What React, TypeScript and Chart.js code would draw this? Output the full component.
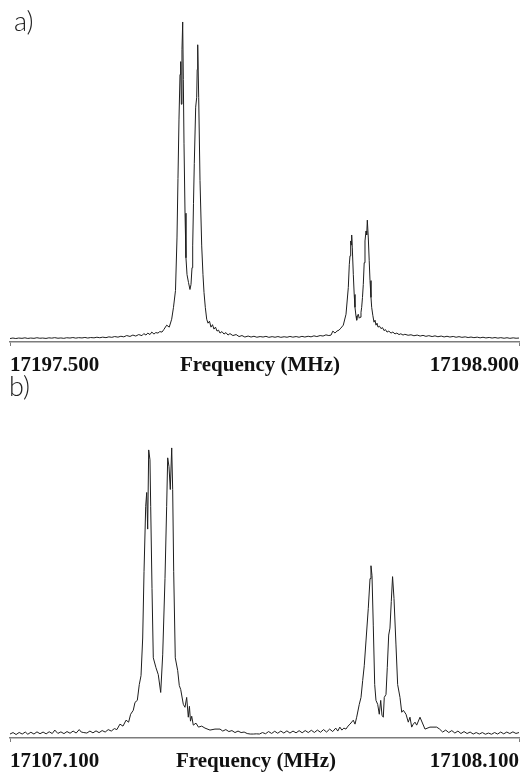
import React, { useEffect, useRef } from "react";
import { Chart, registerables } from "chart.js";

Chart.register(...registerables);

// ---------- Panel a) : 17197.500 – 17198.900 MHz (offsets in kHz from start) ----------
const startMHzA = 17197.5;
const spanKHzA = 1400;
const offsetKHzA = [
  0, 8, 16, 24, 33, 41, 49, 57, 66, 74,
  82, 90, 99, 107, 115, 123, 132, 140, 148, 156,
  165, 173, 181, 189, 198, 206, 214, 222, 231, 239,
  247, 255, 264, 272, 280, 288, 297, 305, 313, 321,
  330, 338, 346, 354, 363, 368, 374, 379, 385, 390,
  396, 401, 407, 412, 418, 423, 431, 438, 444.7, 449.7,
  455.2, 459.3, 462, 464.8, 467.6, 469.5, 471.2, 473, 475, 476.7,
  478.6, 481.4, 484, 486.9, 491, 495, 497.8, 500.6, 502.5, 504.7,
  506.9, 510.7, 513.5, 514.9, 516.3, 519, 522.6, 527.3, 530.8, 533.6,
  537.2, 541, 544.6, 548.7, 552.8, 557, 561, 565.2, 569.4, 573.5,
  577.6, 583, 588.6, 594, 599.6, 605, 613, 622, 630, 638,
  646, 655, 663, 671, 679, 688, 696, 704, 712, 721,
  729, 737, 745, 754, 762, 770, 778, 787, 795, 803,
  811, 820, 828, 836, 844, 853, 861, 869, 877, 883,
  888, 894, 899, 905, 910, 916.7, 924.2, 930.5, 933.2, 935.2,
  937.1, 938.5, 939.8, 941.5, 944.3, 946.7, 948.9, 951.7, 953.6, 955.8,
  958, 960.5, 962.7, 965.4, 967.3, 969.5, 971.7, 974.2, 976.4, 979.2,
  981.1, 982.8, 985.5, 988, 990.2, 992.9, 994.8, 997.9, 1001.2, 1004,
  1006.7, 1009.5, 1012.2, 1016.3, 1020.4, 1024.6, 1028.7, 1032.8, 1037, 1042,
  1048, 1053, 1059, 1064, 1070, 1075, 1081, 1086, 1095, 1103,
  1111, 1120, 1128, 1136, 1144, 1152, 1161, 1169, 1177, 1186,
  1194, 1202, 1210, 1219, 1227, 1235, 1243, 1252, 1260, 1268,
  1276, 1285, 1293, 1301, 1309, 1318, 1326, 1334, 1342, 1350,
  1359, 1367, 1375, 1384, 1392, 1400,
];
const intensityA = [
  3.5, 4, 3.5, 4, 3.7, 4.2, 3.6, 4, 3.7, 4.3,
  3.8, 4, 3.6, 4.2, 3.9, 4.4, 3.8, 4.1, 3.7, 4.3,
  4, 4.5, 3.9, 4.4, 4.1, 4.6, 4, 4.5, 4.2, 4.8,
  4.3, 4.9, 4.4, 5.2, 4.7, 5.5, 4.9, 5.8, 5.2, 6.5,
  5.6, 7, 6, 7.5, 6.4, 8.5, 7, 9, 7.5, 10,
  8, 9.5, 9, 10.5, 10, 12.5, 17, 15, 23, 35,
  52, 105, 165, 225, 270, 283, 240, 295, 323, 265,
  200, 130, 85, 68, 60, 53, 58, 75, 97, 140,
  180, 237, 247, 275, 300, 247, 163, 97, 68, 50,
  35, 23, 19, 21, 15, 17.5, 13, 15, 11, 12,
  9, 10.5, 8, 9.5, 7, 8.5, 6.5, 7.5, 5.5, 6.5,
  5, 6, 5, 5.8, 4.8, 5.5, 5, 5.7, 4.7, 5.4,
  4.8, 5.5, 4.7, 5.3, 4.8, 5.6, 4.9, 5.5, 4.8, 5.7,
  5, 5.8, 5.2, 6.2, 5.5, 6.5, 6, 7.2, 6.5, 7,
  11, 9, 11, 12, 14, 17, 28, 55, 78, 87,
  102, 98, 108, 95, 68, 48, 35, 26, 22, 27,
  28, 24, 25, 30, 35, 45, 58, 80, 102, 112,
  108, 123, 105, 82, 62, 45, 35, 27, 20, 22,
  17, 19, 15, 16, 13.5, 14.5, 11.5, 12.5, 10, 11,
  9, 10, 8.2, 9, 7.5, 8.3, 7, 7.8, 6.8, 7.3,
  6.3, 7, 6, 6.7, 5.7, 6.4, 5.5, 6.2, 5.3, 6,
  5.1, 5.8, 5, 5.6, 4.8, 5.4, 4.7, 5.2, 4.5, 5,
  4.4, 4.9, 4.2, 4.8, 4.1, 4.6, 4, 4.5, 3.9, 4.4,
  3.8, 4.3, 3.7, 4.2, 3.8, 4,
];
const tickPosA = [0, 687.6, 1400];
const tickLabelsA = ["17197.500", "Frequency (MHz)", "17198.900"];

// ---------- Panel b) : 17107.100 – 17108.100 MHz (offsets in kHz from start) ----------
const startMHzB = 17107.1;
const spanKHzB = 1000;
const offsetKHzB = [
  0, 6, 12, 18, 24, 30, 35, 41, 47, 53,
  59, 65, 71, 77, 83, 88, 94, 100, 106, 112,
  118, 124, 130, 136, 140, 145, 151, 157, 163, 169,
  175, 181, 187, 193, 199, 205, 210, 216, 222, 228,
  233, 237, 242.2, 245.6, 250.1, 254, 257.4, 260.7, 263.3, 266.6,
  268.6, 270.5, 272.5, 275, 276.4, 279, 281.5, 286.8, 291.3, 296.1,
  300, 304.5, 307.8, 309.8, 312.4, 314.9, 317.7, 319.6, 321.6, 324.7,
  329.5, 332.6, 335.4, 340.5, 343.8, 347.1, 350.3, 352.5, 354.6, 357,
  360.1, 365.4, 370.3, 376.6, 383.1, 392.9, 402.7, 412.6, 418, 424,
  430, 436, 442, 448, 454, 460, 466, 472, 478, 484,
  490, 496, 502, 508, 514, 520, 526, 532, 538, 544,
  550, 556, 562, 568, 574, 580, 586, 592, 598, 604,
  610, 616, 622, 628, 634, 640, 644, 648, 652, 656,
  660, 664, 668, 674.4, 677.8, 681.1, 686.2, 689.6, 692.9, 696,
  699.4, 703.9, 707.3, 709.2, 711.2, 713.7, 716.5, 719, 722.4, 725.5,
  728.3, 730.8, 733.4, 735.3, 738.7, 741.2, 744, 746.5, 749.1, 751.6,
  754.4, 758.3, 761.6, 766.2, 769.6, 772.7, 778, 782.5, 785.8, 789.2,
  792.3, 795.7, 799, 805.5, 815.3, 825.1, 838.3, 844, 850, 856,
  862, 868, 874, 880, 886, 892, 898, 904, 910, 916,
  922, 928, 934, 940, 946, 952, 958, 964, 970, 976,
  982, 988, 994, 1000,
];
const intensityB = [
  4, 5.5, 3.5, 5.6, 4, 6, 3.8, 5.8, 4, 6.2,
  4.3, 6, 4.2, 6.3, 4.5, 8, 4.6, 6.2, 4.4, 6.5,
  4.8, 7, 5, 8.5, 6, 5.5, 5, 7, 5.2, 7.2,
  5.4, 7.5, 6, 8.5, 7, 9.5, 8.5, 14, 12, 18,
  16, 24, 28, 36, 38, 54, 63, 101, 168, 234,
  248, 211, 291, 281, 234, 151, 81, 71, 64, 46,
  84, 161, 234, 283, 274, 251, 293, 251, 168, 81,
  68, 53, 49, 34, 31, 41, 21, 32, 17, 22,
  13, 15, 11, 12, 10, 8, 9, 9, 7, 8.5,
  6.5, 7.5, 5.5, 7, 5.5, 6, 4.5, 4, 4, 4.2,
  4, 5.5, 4.3, 6.5, 4.6, 6.8, 4.8, 7, 5, 7.2,
  5, 7, 5.2, 7.4, 5.3, 7.5, 5.5, 7.8, 5.6, 8,
  5.8, 8.5, 6, 9, 6.5, 10, 7, 11, 8, 10,
  9, 12, 14, 18, 14, 21, 34, 41, 58, 73,
  98, 131, 161, 174, 164, 114, 54, 38, 34, 24,
  38, 23, 21, 41, 44, 71, 104, 111, 138, 163,
  141, 94, 54, 41, 26, 28, 24, 16, 21, 11,
  14, 16, 13, 21, 9, 11, 11, 9, 6, 8,
  5.5, 7.5, 5, 7, 4.5, 6.5, 4.5, 6, 4, 5.5,
  4, 5.5, 3.8, 5, 3.8, 5.5, 4, 6, 4.2, 6,
  4.5, 6.2, 4.6, 5.5,
];
const tickPosB = [0, 483.3, 1000];
const tickLabelsB = ["17107.100", "Frequency (MHz)", "17108.100"];

const W = 529;
const AXIS_GREY = "#7c7c7c";

type SpectrumProps = {
  offsets: number[];
  values: number[];
  span: number;
  yMax: number;
  tickPos: number[];
  tickLabels: string[];
  top: number;
  height: number;
  padTop: number;
  padBottom: number;
};

function Spectrum(p: SpectrumProps) {
  const ref = useRef<HTMLCanvasElement>(null);
  useEffect(() => {
    if (!ref.current) return;
    const chart = new Chart(ref.current, {
      type: "line",
      data: {
        datasets: [
          {
            data: p.offsets.map((x, i) => ({ x, y: p.values[i] })),
            borderColor: "#1e1e1e",
            borderWidth: 1,
            pointRadius: 0,
            tension: 0,
            fill: false,
          },
        ],
      },
      options: {
        animation: false,
        responsive: false,
        devicePixelRatio: 1,
        layout: { padding: { left: 10, right: 10, top: p.padTop, bottom: p.padBottom } },
        plugins: {
          legend: { display: false },
          tooltip: { enabled: false },
          title: { display: false },
        },
        scales: {
          x: {
            type: "linear",
            min: 0,
            max: p.span,
            afterBuildTicks: (scale: any) => {
              scale.ticks = p.tickPos.map((v) => ({ value: v }));
            },
            ticks: {
              autoSkip: false,
              maxRotation: 0,
              minRotation: 0,
              align: "inner",
              padding: 9,
              color: "#111",
              font: {
                family: "'Liberation Serif', 'Times New Roman', serif",
                size: 21,
                weight: "bold",
                lineHeight: 1,
              },
              callback: (_v: any, i: number) => p.tickLabels[i],
            },
            grid: {
              drawOnChartArea: false,
              drawTicks: true,
              tickLength: 4,
              lineWidth: 1,
              color: (ctx: any) => (ctx.index === 1 ? "rgba(0,0,0,0)" : AXIS_GREY),
            },
            border: { display: true, color: AXIS_GREY, width: 1.5 },
          },
          y: { display: false, min: 0, max: p.yMax },
        },
      } as any,
    });
    return () => chart.destroy();
  }, []);
  return (
    <canvas
      ref={ref}
      width={W}
      height={p.height}
      style={{ position: "absolute", left: 0, top: p.top, display: "block" }}
    />
  );
}

const labelStyle: React.CSSProperties = {
  position: "absolute",
  fontFamily: "'DejaVu Sans ExtraLight', 'Lato', 'DejaVu Sans', sans-serif",
  fontWeight: 300,
  fontSize: 27,
  lineHeight: "27px",
  color: "#222",
  whiteSpace: "nowrap",
};

export default function App() {
  return (
    <div
      style={{
        position: "absolute",
        left: 0,
        top: 0,
        width: W,
        height: 773,
        overflow: "hidden",
        background: "#fff",
      }}
      data-start-a={startMHzA}
      data-start-b={startMHzB}
    >
      <Spectrum
        offsets={offsetKHzA}
        values={intensityA}
        span={spanKHzA}
        yMax={325}
        tickPos={tickPosA}
        tickLabels={tickLabelsA}
        top={0}
        height={385}
        padTop={20}
        padBottom={0}
      />
      <Spectrum
        offsets={offsetKHzB}
        values={intensityB}
        span={spanKHzB}
        yMax={300}
        tickPos={tickPosB}
        tickLabels={tickLabelsB}
        top={385}
        height={398}
        padTop={56}
        padBottom={2}
      />
      <div style={{ ...labelStyle, left: 14, top: 7 }}>a)</div>
      <div style={{ ...labelStyle, left: 9, top: 372 }}>b)</div>
    </div>
  );
}
